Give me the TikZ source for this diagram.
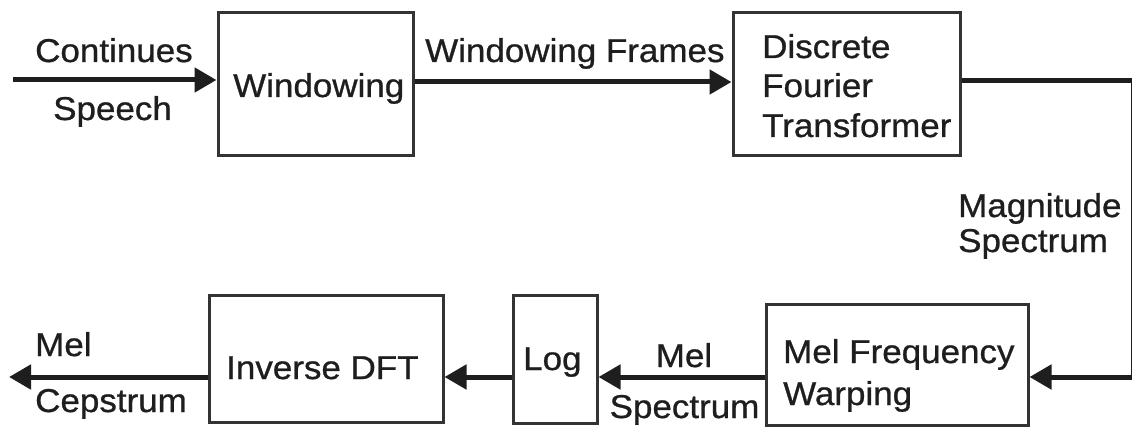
\documentclass[tikz,border=0pt]{standalone}
\usepackage{fontspec}
\setmainfont{Liberation Sans}[FakeStretch=1.06,FakeBold=0.8]
\usetikzlibrary{arrows.meta}
\definecolor{ink}{HTML}{1E1E1E}
\definecolor{boxc}{HTML}{333333}
\begin{document}
\begin{tikzpicture}[x=1pt,y=-1pt,
  blk/.style={draw=boxc,line width=3pt,inner sep=0pt,fill=white},
  txt/.style={font=\fontsize{33}{39}\selectfont,text=ink,inner sep=0pt,anchor=base west},
  ctxt/.style={font=\fontsize{33}{39}\selectfont,text=ink,inner sep=0pt,anchor=base},
  wire/.style={line width=5pt,draw=ink},
  flow/.style={wire,-{Triangle[length=22pt,width=24pt]}}]
\useasboundingbox[fill=white] (0,0) rectangle (1132,433);
% boxes
\node[blk,minimum width=195pt,minimum height=142pt] (win) at (315.5,84) {};
\node[blk,minimum width=227pt,minimum height=142pt] (dft) at (846.5,84) {};
\node[blk,minimum width=262pt,minimum height=121pt] (mfw) at (897,364.5) {};
\node[blk,minimum width=84pt,minimum height=128pt] (log) at (555,359) {};
\node[blk,minimum width=234pt,minimum height=127pt] (idft) at (326,358.5) {};
% coordinates
\coordinate (src) at (13,80);
\coordinate (cr) at (1133.5,81);
\coordinate (cb) at (1133.5,377);
\coordinate (out) at (9,377);
% connectors
\draw[flow] (src) -- (src -| win.west);
\draw[flow] ([yshift=2pt]win.east) -- ([yshift=2pt]dft.west);
\draw[wire] (dft.east |- cr) -- (cr) -- (cb);
\draw[flow] (cb) -- (cb -| mfw.east);
\draw[flow] (mfw.west |- cb) -- (log.east |- cb);
\draw[flow] (log.west |- cb) -- (idft.east |- cb);
\draw[flow] (idft.west |- cb) -- (out);
% texts in boxes
\node[txt] (twin) at (233,97) {Windowing};
\node[txt] (tdft1) at (762,58) {Discrete};
\node[txt] (tdft2) at (762,97) {Fourier};
\node[txt] (tdft3) at (762,137) {Transformer};
\node[txt] (tmfw1) at (783,363) {Mel Frequency};
\node[txt] (tmfw2) at (783,405) {Warping};
\node[txt] (tlog) at (523,370) {Log};
\node[txt] (tidft) at (226,379) {Inverse DFT};
% connector labels
\node[txt] (l1) at (35,62) {Continues};
\node[txt] (l2) at (53,120) {Speech};
\node[txt] (l3) at (425,62) {Windowing Frames};
\node[txt] (l4) at (958,217) {Magnitude};
\node[txt] (l5) at (958,252) {Spectrum};
\node[ctxt] (l6) at (684,367) {Mel};
\node[ctxt] (l7) at (684.5,418) {Spectrum};
\node[txt] (l8) at (35,356) {Mel};
\node[txt] (l9) at (35,412) {Cepstrum};
\end{tikzpicture}
\end{document}
